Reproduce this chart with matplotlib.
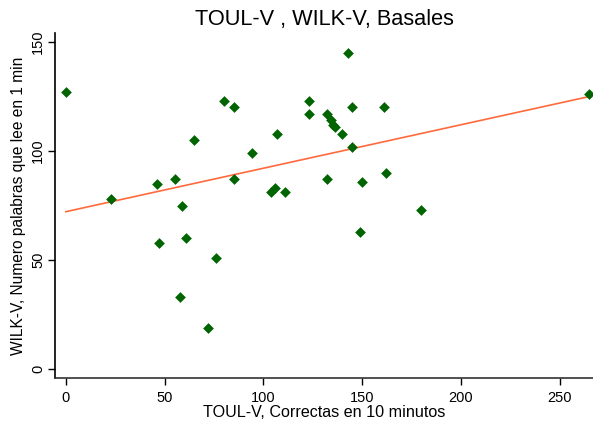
import numpy as np
import matplotlib
matplotlib.use("Agg")
import matplotlib.pyplot as plt

plt.rcParams['font.family'] = ['Liberation Sans', 'DejaVu Sans']

# TOUL-V (correctas en 10 min) vs WILK-V (palabras por minuto), basales
toul = [0, 23, 46, 47, 55, 59, 58, 61, 65, 72, 76, 80, 85, 85, 94, 107, 104, 106,
        111, 123, 123, 132, 132, 134, 135, 136, 140, 143, 145, 145, 149, 150,
        161, 162, 180, 265]
wilk = [127, 78, 85, 58, 87, 75, 33, 60, 105, 19, 51, 123, 120, 87, 99, 108, 81, 83,
        81, 123, 117, 117, 87, 114, 112, 111, 108, 145, 120, 102, 63, 86,
        120, 90, 73, 126]

xticks = [0, 50, 100, 150, 200, 250]
yticks = [0, 50, 100, 150]

x = np.array(toul, dtype=float)
y = np.array(wilk, dtype=float)
b, a = np.polyfit(x, y, 1)
xf = np.array([x.min(), x.max()])

fig = plt.figure(figsize=(5.93, 4.23), dpi=100)
ax = fig.add_axes([0.0927, 0.106, 0.9073, 0.816])

ax.scatter(x, y, marker='D', s=30, color='#006400', linewidths=0, zorder=3)
ax.plot(xf, a + b * xf, color='#ff6a3d', lw=1.2, zorder=2)

ax.set_xlim(-5.5, 266.8)
ax.set_ylim(-4.1, 154.1)
ax.set_xticks(xticks)
ax.set_yticks(yticks)
ax.tick_params(axis='both', direction='out', length=5, width=1, labelsize=10.5, pad=2)
ax.tick_params(axis='x', pad=4.5)
for lab in ax.get_yticklabels():
    lab.set_rotation(90)
    lab.set_va('center')

ax.spines['top'].set_visible(False)
ax.spines['right'].set_visible(False)
ax.spines['left'].set_linewidth(1.2)
ax.spines['bottom'].set_linewidth(1.2)
ax.spines['bottom'].set_color('#333333')

ax.set_xlabel('TOUL-V, Correctas en 10 minutos', fontsize=11.6, labelpad=0)
ax.set_ylabel('WILK-V, Numero palabras que lee en 1 min', fontsize=11.2, labelpad=4)
ax.set_title('TOUL-V , WILK-V, Basales', fontsize=15.7, pad=6)

fig.savefig('out.png', dpi=100)
